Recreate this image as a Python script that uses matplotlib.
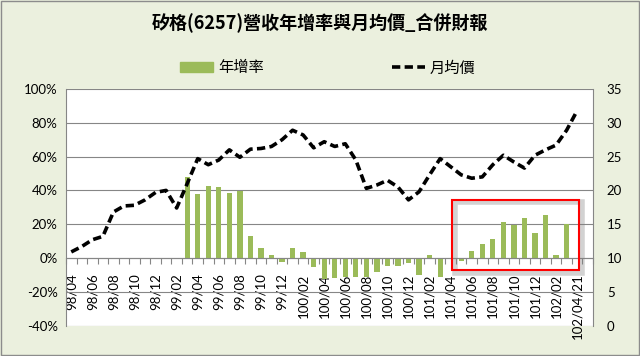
import matplotlib.pyplot as plt
import numpy as np
from matplotlib.patches import Rectangle, Patch
from matplotlib.lines import Line2D
from matplotlib.ticker import FuncFormatter
import matplotlib.patheffects as pe

# 月份類別 (最後一格在原圖中是空的)
months = [
    "98/04", "98/05", "98/06", "98/07", "98/08", "98/09", "98/10", "98/11", "98/12",
    "99/01", "99/02", "99/03", "99/04", "99/05", "99/06", "99/07", "99/08", "99/09",
    "99/10", "99/11", "99/12",
    "100/01", "100/02", "100/03", "100/04", "100/05", "100/06", "100/07", "100/08",
    "100/09", "100/10", "100/11", "100/12",
    "101/01", "101/02", "101/03", "101/04", "101/05", "101/06", "101/07", "101/08",
    "101/09", "101/10", "101/11", "101/12",
    "102/01", "102/02", "102/03", "102/04/21", "",
]

nan = np.nan
# 營收年增率 (%)
yoy = [
    nan, nan, nan, nan, nan, nan, nan, nan, nan,
    nan, nan, 48, 38, 42.5, 42, 38.5, 39.5, 13,
    6, 2, -2.5,
    6, 3.5, -5.5, -12.5, -12, -11, -11, -11,
    -8, -5, -4.5, -3,
    -10, 1.5, -11, 0, -2, 4, 8.5, 11,
    21.5, 19.5, 23.5, 15,
    25.3, 1.8, 20, nan, nan,
]

# 月均價
price = [
    10.9, 11.7, 12.7, 13.2, 16.8, 17.7, 17.8, 18.6, 19.7,
    20.0, 17.4, 21.0, 24.7, 23.8, 24.5, 26.0, 24.9, 26.1,
    26.2, 26.5, 27.5,
    28.9, 28.2, 26.3, 27.2, 26.5, 26.9, 24.5, 20.3,
    20.8, 21.5, 20.5, 18.6,
    19.8, 22.3, 24.7, 23.5, 22.3, 21.8, 22.0, 23.8,
    25.2, 24.2, 23.3, 25.2,
    26.0, 26.7, 28.9, 31.8, nan,
]

title = "矽格(6257)營收年增率與月均價_合併財報"
bar_color = "#9BBB59"
grid_color = "#868686"
dash = (0, (2.3, 1.2))

plt.rcParams["font.family"] = ["Lato", "Noto Sans CJK TC", "DejaVu Sans"]

fig = plt.figure(figsize=(6.4, 3.56), dpi=100, facecolor="#EBF0DE")
ax = fig.add_axes([0.1031, 0.0854, 0.8234, 0.6646])
ax.set_facecolor("white")

x = np.arange(len(months))
ax.bar(x, yoy, width=0.5, color=bar_color, zorder=2)
ax.set_xlim(-0.5, len(months) - 0.5)
ax.set_ylim(-40, 100)
ax.set_yticks(np.arange(-40, 101, 20))
ax.yaxis.set_major_formatter(FuncFormatter(lambda v, _: f"{v:.0f}%"))
ax.grid(axis="y", color=grid_color, lw=0.8)
ax.set_axisbelow(True)

ax.spines["bottom"].set_position(("data", 0))
ax.spines["top"].set_visible(False)
for s in ["left", "right", "bottom"]:
    ax.spines[s].set_color(grid_color)
    ax.spines[s].set_linewidth(0.8)

ax.set_xticks(x[::2])
ax.set_xticklabels(months[::2], rotation=90)
ax.set_xticks(np.arange(-0.5, len(months)), minor=True)
ax.tick_params(axis="x", which="major", length=0, pad=11, labelsize=9.5)
ax.tick_params(axis="x", which="minor", length=4, color=grid_color, width=0.8)
ax.tick_params(axis="y", length=0, pad=6, labelsize=9.5)

# 右軸: 月均價
ax2 = ax.twinx()
ax2.plot(x, price, color="black", lw=2.6, ls=dash, dash_capstyle="butt")
ax2.set_ylim(0, 35)
ax2.set_yticks(range(0, 36, 5))
ax2.tick_params(axis="y", length=0, pad=10, labelsize=9.5)
for s in ax2.spines.values():
    s.set_visible(False)

# 紅框 (101/04 之後)
i0 = months.index("101/04")
i1 = months.index("102/04/21")
box = Rectangle((i0 + 0.15, -7), i1 - i0 + 0.05, 41.5, fill=False,
                edgecolor="red", lw=1.5, zorder=5, clip_on=False)
box.set_path_effects([pe.SimpleLineShadow(offset=(2, -2), shadow_color="gray",
                                          alpha=0.35, linewidth=4), pe.Normal()])
ax.add_patch(box)

fig.text(0.5, 1 - 23 / 356, title, ha="center", va="center", fontsize=13,
         fontweight="bold", family=["Noto Sans CJK TC"])

h1 = Patch(color=bar_color, label="年增率")
h2 = Line2D([], [], color="black", lw=2.6, ls=dash, label="月均價")
fig.legend(handles=[h1, h2], loc="center", bbox_to_anchor=(0.512, 0.809), ncol=2,
           frameon=False, prop={"family": ["Noto Sans CJK TC"], "size": 11},
           handlelength=2.2, handletextpad=0.3, columnspacing=8.4)

fig.patches.append(Rectangle((0.001, 0.002), 0.997, 0.996, transform=fig.transFigure,
                             fill=False, edgecolor="#8c8c8c", lw=1))

fig.savefig("out.png", dpi=100, facecolor=fig.get_facecolor())
